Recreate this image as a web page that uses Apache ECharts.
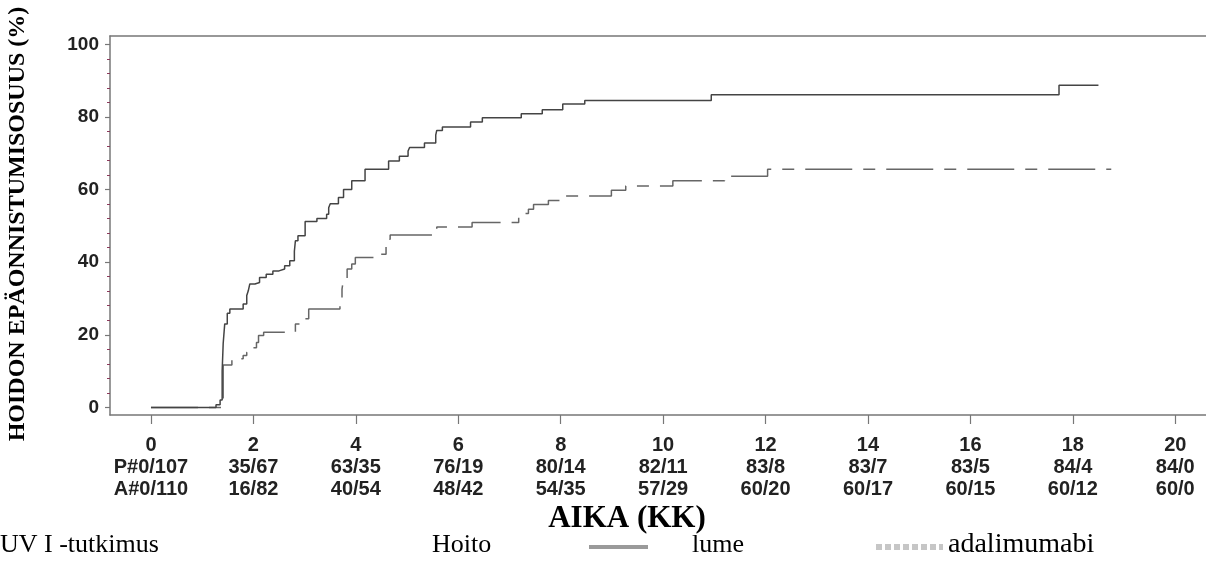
<!DOCTYPE html>
<html>
<head>
<meta charset="utf-8">
<script src="https://cdn.jsdelivr.net/npm/echarts@6/dist/echarts.min.js"></script>
<style>
  html, body { margin: 0; padding: 0; background: #fff; }
  #chart { width: 1206px; height: 561px; }
</style>
</head>
<body>
<div id="chart"></div>
<script>
// cumulative treatment failure (%), step changes at these months
const placeboTimes = [0, 1.27, 1.35, 1.39, 1.41, 1.44, 1.49, 1.54, 1.80, 1.87, 1.90, 1.93, 2.03, 2.12, 2.25, 2.38, 2.50, 2.61, 2.71, 2.80, 2.82, 2.87, 3.01, 3.24, 3.43, 3.47, 3.50, 3.66, 3.76, 3.92, 4.18, 4.64, 4.85, 5.02, 5.05, 5.34, 5.56, 5.58, 5.69, 6.24, 6.47, 7.23, 7.64, 8.04, 8.47, 10.94, 17.73, 18.5];
const placeboRates = [0, 0.7, 2, 10, 17.6, 23.0, 25.9, 27.1, 28.5, 30.8, 32.1, 34.0, 34.4, 35.8, 36.7, 37.6, 38.1, 39.0, 40.4, 43.0, 45.9, 47.3, 51.2, 52.0, 53.2, 55.0, 56.1, 57.8, 60.0, 62.4, 65.6, 67.9, 69.2, 70.6, 71.6, 72.8, 75.0, 76.3, 77.2, 78.6, 79.8, 80.9, 82.0, 83.6, 84.5, 86.1, 88.7, 88.7];

const adaTimes = [0, 1.41, 1.58, 1.80, 1.87, 1.96, 2.00, 2.06, 2.10, 2.20, 2.82, 2.98, 3.08, 3.69, 3.73, 3.76, 3.83, 3.92, 3.99, 4.41, 4.59, 4.63, 4.67, 5.58, 6.27, 7.18, 7.27, 7.37, 7.47, 7.76, 8.10, 8.99, 9.27, 10.19, 11.20, 12.04, 18.75];
const adaRates = [0, 11.7, 13.4, 14.3, 15.2, 15.8, 16.4, 17.9, 19.8, 20.7, 23.0, 24.4, 27.1, 28.5, 32.6, 35.3, 38.1, 39.5, 41.3, 42.2, 44.5, 46.3, 47.5, 49.7, 50.9, 52.3, 53.4, 54.6, 55.9, 57.0, 58.2, 59.8, 61.0, 62.4, 63.7, 65.6, 65.6];

const xTicks = [0, 2, 4, 6, 8, 10, 12, 14, 16, 18, 20];
const placeboAtRisk = ['P#0/107', '35/67', '63/35', '76/19', '80/14', '82/11', '83/8', '83/7', '83/5', '84/4', '84/0'];
const adaAtRisk = ['A#0/110', '16/82', '40/54', '48/42', '54/35', '57/29', '60/20', '60/17', '60/15', '60/12', '60/0'];
const yTicks = [0, 20, 40, 60, 80, 100];
const yMinorTicks = [4, 8, 12, 16, 24, 28, 32, 36, 44, 48, 52, 56, 64, 68, 72, 76, 84, 88, 92, 96];

const zip = (xs, ys) => xs.map((x, i) => [x, ys[i]]);

const axisColor = '#777';
const sans = "'Liberation Sans', Arial, sans-serif";
const serif = "'Liberation Serif', 'Times New Roman', serif";

const chart = echarts.init(document.getElementById('chart'));

chart.setOption({
    animation: false,
    backgroundColor: '#fff',
    grid: {left: 110, top: 36, width: 1100, height: 379},
    xAxis: [{
        type: 'value',
        min: -0.8,
        max: 20.6,
        splitLine: {show: false},
        axisLine: {onZero: false, lineStyle: {color: axisColor, width: 1.5}},
        axisTick: {customValues: xTicks, length: 9, lineStyle: {color: axisColor, width: 1.2}},
        axisLabel: {
            customValues: xTicks,
            margin: 19,
            formatter: function (v) {
                const i = Math.round(v / 2);
                return '{t|' + v + '}\n{r|' + placeboAtRisk[i] + '}\n{r|' + adaAtRisk[i] + '}';
            },
            rich: {
                t: {fontFamily: sans, fontWeight: 'bold', fontSize: 20, color: '#222', lineHeight: 22},
                r: {fontFamily: sans, fontWeight: 'bold', fontSize: 20, color: '#222', lineHeight: 22}
            }
        }
    }, {
        type: 'value',
        position: 'top',
        min: -0.8,
        max: 20.6,
        splitLine: {show: false},
        axisLine: {onZero: false, lineStyle: {color: axisColor, width: 1.5}},
        axisTick: {show: false},
        axisLabel: {show: false}
    }],
    yAxis: [{
        type: 'value',
        min: -2.1,
        max: 102.3,
        splitLine: {show: false},
        axisLine: {onZero: false, lineStyle: {color: axisColor, width: 1.5}},
        axisTick: {customValues: yTicks, length: 5, lineStyle: {color: axisColor, width: 1.2}},
        axisLabel: {
            customValues: yTicks,
            margin: 11,
            fontFamily: sans,
            fontWeight: 'bold',
            fontSize: 19,
            color: '#222'
        }
    }, {
        type: 'value',
        position: 'left',
        min: -2.1,
        max: 102.3,
        splitLine: {show: false},
        axisLine: {show: false, onZero: false},
        axisTick: {customValues: yMinorTicks, length: 3, lineStyle: {color: '#8b3a5a', width: 1}},
        axisLabel: {show: false}
    }],
    series: [{
        name: 'adalimumabi',
        type: 'line',
        step: 'end',
        showSymbol: false,
        data: zip(adaTimes, adaRates),
        lineStyle: {color: '#666', width: 1.5, type: [47, 11, 12, 11]}
    }, {
        name: 'lume',
        type: 'line',
        step: 'end',
        showSymbol: false,
        data: zip(placeboTimes, placeboRates),
        lineStyle: {color: '#444', width: 1.5, type: 'solid'}
    }],
    graphic: [
        {
            type: 'text', x: 18, y: 224, rotation: Math.PI / 2,
            style: {text: 'HOIDON EPÄONNISTUMISOSUUS (%)', font: 'bold 24px ' + serif, fill: '#000', align: 'center', verticalAlign: 'middle'}
        },
        {
            type: 'text', x: 627, y: 519,
            style: {text: 'AIKA (KK)', font: 'bold 31px ' + serif, fill: '#000', align: 'center', verticalAlign: 'middle'}
        },
        {type: 'text', x: 0, y: 545, style: {text: 'UV I -tutkimus', font: '26px ' + serif, fill: '#000', verticalAlign: 'middle'}},
        {type: 'text', x: 432, y: 545, style: {text: 'Hoito', font: '26px ' + serif, fill: '#000', verticalAlign: 'middle'}},
        {type: 'line', shape: {x1: 589, y1: 547, x2: 648, y2: 547}, style: {stroke: '#9a9a9a', lineWidth: 4}},
        {type: 'text', x: 692, y: 545, style: {text: 'lume', font: '26px ' + serif, fill: '#000', verticalAlign: 'middle'}},
        {type: 'line', shape: {x1: 876, y1: 547, x2: 943, y2: 547}, style: {stroke: '#c6c6c6', lineWidth: 6, lineDash: [6, 3]}},
        {type: 'text', x: 948, y: 545, style: {text: 'adalimumabi', font: '28px ' + serif, fill: '#000', verticalAlign: 'middle'}}
    ]
});
</script>
</body>
</html>
